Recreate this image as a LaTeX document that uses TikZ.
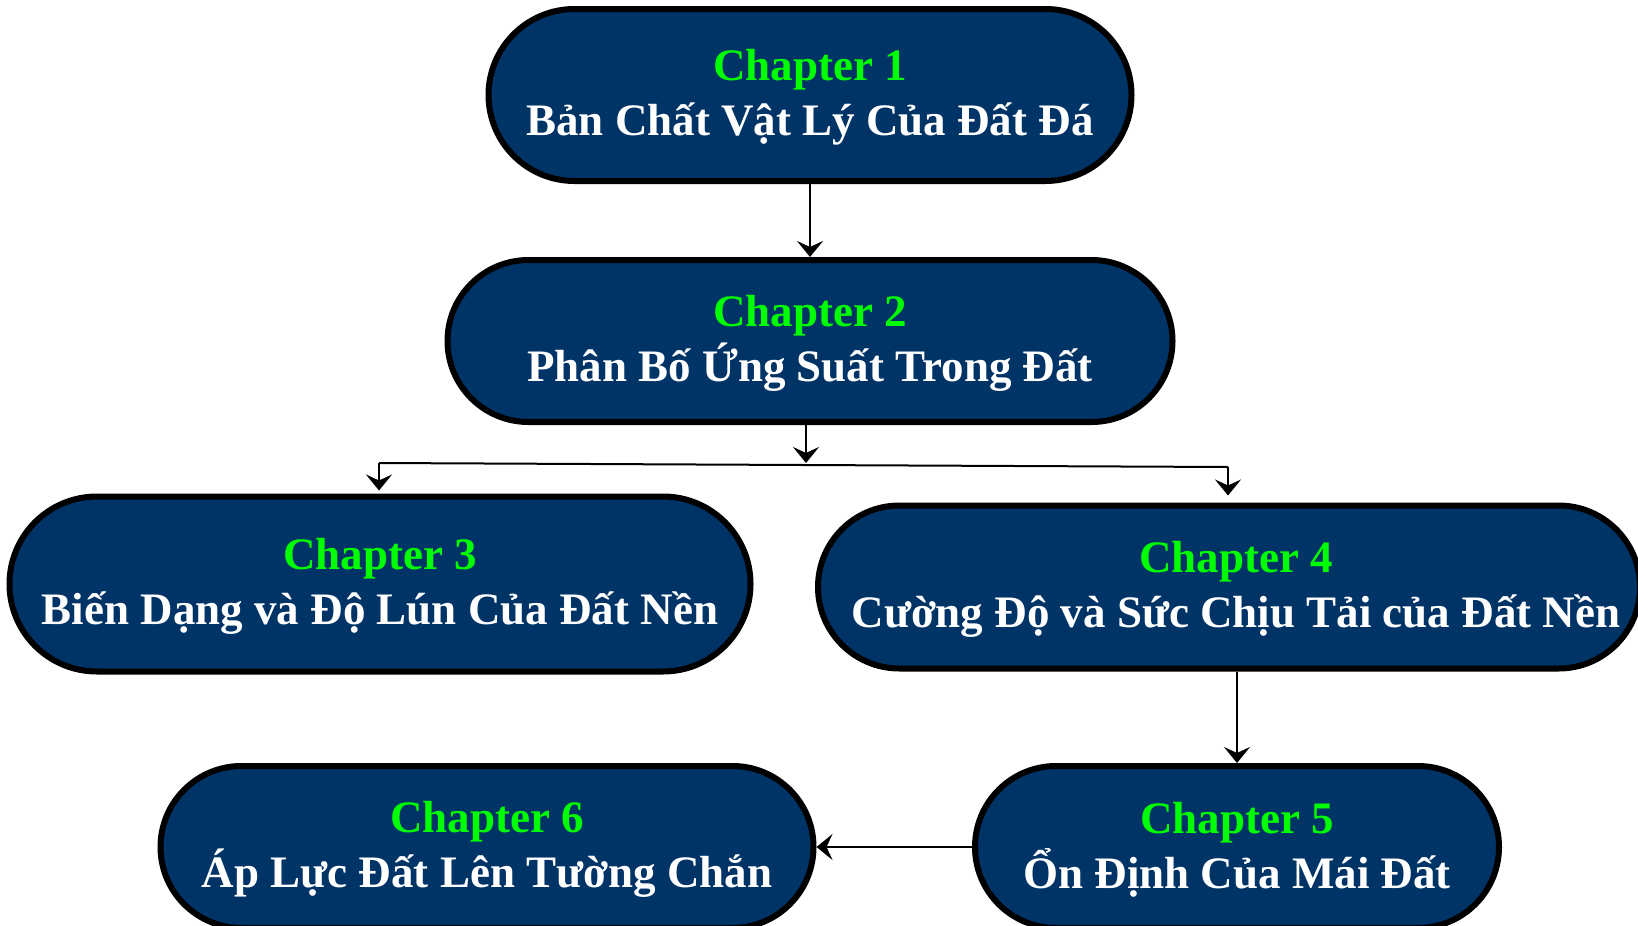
\documentclass[tikz,border=0pt]{standalone}
\usepackage{fontspec}
\setmainfont{Liberation Serif}
\usetikzlibrary{arrows.meta}
\definecolor{navy}{RGB}{0,51,102}
\definecolor{chgreen}{RGB}{0,255,0}
\newcommand\chtitle[1]{{\color{chgreen}\rule{0pt}{18.3pt}#1}}
\begin{document}
\begin{tikzpicture}[x=0.5pt,y=-0.5pt,
  chbox/.style n args={3}{draw=black, line width=3pt, fill=navy,
    minimum width=#1, minimum height=#2, rounded corners=#3,
    inner sep=0pt, align=center, text=white,
    font=\fontsize{22.5}{27.5}\selectfont\bfseries},
  arr/.style={draw=black, line width=1pt, -{Stealth[length=8pt,width=13pt,inset=3pt]}},
  conn/.style={draw=black, line width=1pt}]
\useasboundingbox (0,0) rectangle (1638,926);
\node[chbox={321.5pt}{86pt}{43pt}] (b1) at (810,95)
  {\chtitle{Chapter 1}\\Bản Chất Vật Lý Của Đất Đá};
\node[chbox={362.5pt}{81pt}{40.5pt}] (b2) at (810,341)
  {\chtitle{Chapter 2}\\Phân Bố Ứng Suất Trong Đất};
\node[chbox={370.5pt}{87.5pt}{43.7pt}] (b3) at (380,584)
  {\chtitle{Chapter 3}\\Biến Dạng và Độ Lún Của Đất Nền};
\node[chbox={411pt}{81.5pt}{40.7pt}] (b4) at (1229,587)
  {\hspace*{7pt}\chtitle{Chapter 4}\\\hspace*{7pt}Cường Độ và Sức Chịu Tải của Đất Nền};
\node[chbox={262pt}{81pt}{40.5pt}] (b5) at (1237,847)
  {\chtitle{Chapter 5}\\Ổn Định Của Mái Đất};
\node[chbox={326.5pt}{81pt}{40.5pt}] (b6) at (487,847)
  {\chtitle{Chapter 6}\\Áp Lực Đất Lên Tường Chắn};
\coordinate (j) at (806,463);
\coordinate (jl) at (379,463);
\coordinate (jr) at (1228,467);
\draw[arr] (b1.south) -- (b2.north);
\draw[arr] (b2.south -| j) -- (j);
\draw[conn] (jl) -- (jr);
\draw[arr] (jl) -- ([yshift=1.5pt]jl |- b3.north);
\draw[arr] (jr) -- ([yshift=3.5pt]jr |- b4.north);
\draw[arr] (b5.north |- b4.south) -- (b5.north);
\draw[arr] (b5.west) -- (b6.east);
\end{tikzpicture}
\end{document}
